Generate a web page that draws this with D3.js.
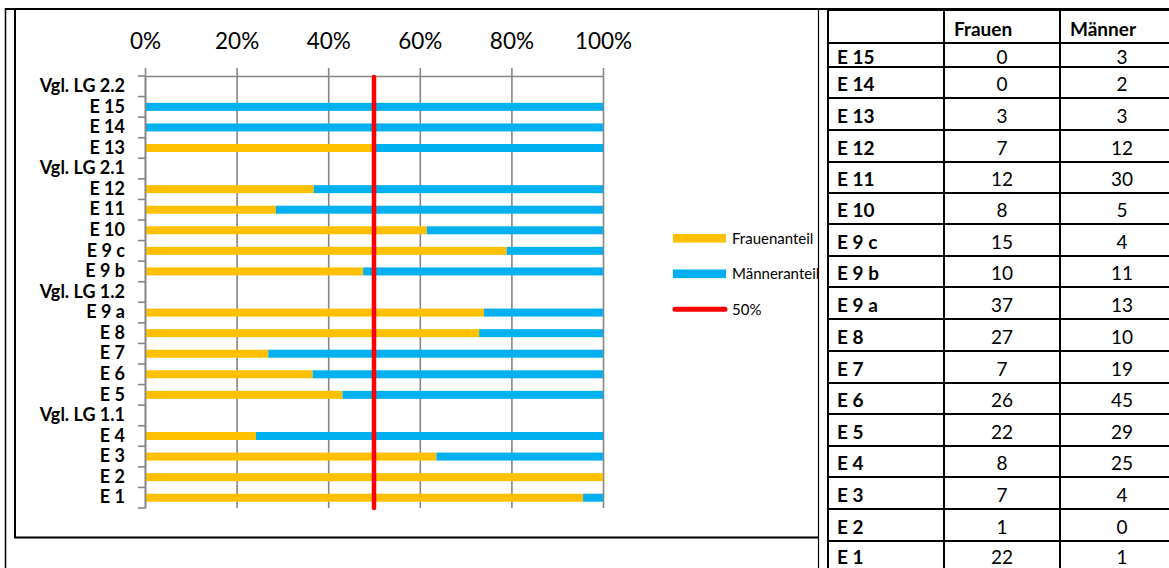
<!DOCTYPE html>
<html>
<head>
<meta charset="utf-8">
<script src="https://cdn.jsdelivr.net/npm/d3@7"></script>
<style>
  html, body { margin: 0; padding: 0; background: #fff; }
  svg { display: block; }
</style>
</head>
<body>
<svg id="chart" width="1169" height="568"></svg>
<script>
// Chart rows, top to bottom (comparison rows carry no bars)
const categories = [
  "Vgl. LG 2.2", "E 15", "E 14", "E 13",
  "Vgl. LG 2.1", "E 12", "E 11", "E 10", "E 9 c", "E 9 b",
  "Vgl. LG 1.2", "E 9 a", "E 8", "E 7", "E 6", "E 5",
  "Vgl. LG 1.1", "E 4", "E 3", "E 2", "E 1"
];
// Head counts per unit, as listed in the table
const units   = ["E 15", "E 14", "E 13", "E 12", "E 11", "E 10", "E 9 c", "E 9 b", "E 9 a", "E 8", "E 7", "E 6", "E 5", "E 4", "E 3", "E 2", "E 1"];
const frauen  = [0, 0, 3, 7, 12, 8, 15, 10, 37, 27, 7, 26, 22, 8, 7, 1, 22];
const maenner = [3, 2, 3, 12, 30, 5, 4, 11, 13, 10, 19, 45, 29, 25, 4, 0, 1];
const seriesNames = ["Frauenanteil", "Männeranteil"];
const referenceLabel = "50%";
const referenceValue = 0.5;
const tickValues = [0, 0.2, 0.4, 0.6, 0.8, 1];
const tableHeader = ["", "Frauen", "Männer"];

const colors = { "Frauenanteil": "#FFC000", "Männeranteil": "#00B0F0" };
const refColor = "#FF0000";
const gridColor = "#868686";
const FONT = "Lato, 'Open Sans', sans-serif";

const svg = d3.select("#chart");

// ---- frames ----
const frame = svg.append("g").attr("fill", "none").attr("stroke", "#000");
frame.append("line").attr("x1", 5).attr("x2", 830).attr("y1", 9).attr("y2", 9).attr("stroke-width", 2);
frame.append("line").attr("x1", 5.5).attr("x2", 5.5).attr("y1", 8).attr("y2", 568).attr("stroke-width", 1.5);
frame.append("line").attr("x1", 818.5).attr("x2", 818.5).attr("y1", 8).attr("y2", 568).attr("stroke-width", 1.2);
frame.append("line").attr("x1", 15).attr("x2", 15).attr("y1", 9).attr("y2", 538).attr("stroke-width", 2);
frame.append("line").attr("x1", 14).attr("x2", 819).attr("y1", 537.5).attr("y2", 537.5).attr("stroke-width", 2);

// ---- scales ----
const x = d3.scaleLinear().domain([0, 1]).range([145, 603]);
const y = d3.scaleBand().domain(categories).range([76, 508]).padding(0);
const barH = 8;

// ---- data for stacking ----
const rows = units.map((u, i) => ({ unit: u, "Frauenanteil": frauen[i], "Männeranteil": maenner[i] }));
const stacked = d3.stack().keys(seriesNames).offset(d3.stackOffsetExpand)(rows);

// ---- vertical gridlines ----
svg.append("g")
  .attr("transform", `translate(0,${y.range()[0]})`)
  .call(d3.axisBottom(x).tickValues(tickValues).tickSize(y.range()[1] - y.range()[0]).tickFormat(""))
  .call(g => g.select(".domain").remove())
  .call(g => g.selectAll("line").attr("stroke", gridColor).attr("stroke-width", 1.6));

// ---- bars ----
const barG = svg.append("g");
stacked.forEach(layer => {
  barG.append("g").attr("fill", colors[layer.key])
    .selectAll("rect").data(layer).join("rect")
    .attr("x", d => x(d[0]))
    .attr("width", d => Math.max(0, x(d[1]) - x(d[0])))
    .attr("y", d => y(d.data.unit) + (y.bandwidth() - barH) / 2)
    .attr("height", barH);
});

// ---- top value axis ----
svg.append("g")
  .attr("transform", `translate(0,${y.range()[0]})`)
  .call(d3.axisTop(x).tickValues(tickValues).tickFormat(d3.format(".0%")).tickSize(8).tickSizeOuter(0).tickPadding(19))
  .call(g => g.select(".domain").attr("stroke", gridColor).attr("stroke-width", 1.6))
  .call(g => g.selectAll(".tick line").attr("stroke", gridColor).attr("stroke-width", 1.6))
  .call(g => g.selectAll("text").attr("fill", "#000").style("font-family", FONT).style("font-size", "22.5px"));

// ---- left category axis ----
svg.append("g")
  .attr("transform", `translate(${x(0)},0)`)
  .call(d3.axisLeft(y).tickSize(0).tickPadding(20))
  .call(g => g.select(".domain").attr("stroke", gridColor).attr("stroke-width", 1.6))
  .call(g => g.selectAll("text").attr("fill", "#000").style("font-family", FONT)
    .style("font-size", "18px").style("font-weight", "bold"));

// tick marks between categories
const boundaries = categories.map(c => y(c)).concat([y.range()[1]]);
svg.append("g").selectAll("line").data(boundaries).join("line")
  .attr("x1", x(0) - 7).attr("x2", x(0))
  .attr("y1", d => d).attr("y2", d => d)
  .attr("stroke", gridColor).attr("stroke-width", 1.6);

// ---- 50% reference line ----
svg.append("line")
  .attr("x1", x(referenceValue)).attr("x2", x(referenceValue))
  .attr("y1", y.range()[0] + 1).attr("y2", y.range()[1])
  .attr("stroke", refColor).attr("stroke-width", 4.5).attr("stroke-linecap", "round");

// ---- legend ----
const legend = svg.append("g").style("font-family", FONT).style("font-size", "15px");
const legendItems = seriesNames.map(n => ({ name: n, kind: "bar" })).concat([{ name: referenceLabel, kind: "line" }]);
legendItems.forEach((it, i) => {
  const cy = 238.3 + i * 35.5;
  if (it.kind === "bar") {
    legend.append("rect").attr("x", 673).attr("y", cy - 4.3).attr("width", 53).attr("height", 8.6).attr("fill", colors[it.name]);
  } else {
    legend.append("line").attr("x1", 675).attr("x2", 725).attr("y1", cy).attr("y2", cy)
      .attr("stroke", refColor).attr("stroke-width", 5).attr("stroke-linecap", "round");
  }
  legend.append("text").attr("x", 732).attr("y", cy).attr("dy", "0.35em").attr("fill", "#000").text(it.name);
});

// ---- table ----
const colX = [828, 944, 1060, 1184];
const rowLines = [9.5, 43, 67, 98, 130, 162, 193, 224, 256, 287, 319, 351, 383, 414, 446, 477, 509, 541, 573];
const table = svg.append("g").style("font-family", FONT).style("font-size", "19px").attr("fill", "#000");

// cell texts
const baselineOf = i => Math.min(Math.max(rowLines[i] + 20.5, rowLines[i + 1] - 7), 564);
tableHeader.forEach((h, j) => {
  if (!h) return;
  table.append("text").attr("x", colX[j] + 10).attr("y", baselineOf(0)).style("font-weight", "bold").text(h);
});
units.forEach((u, i) => {
  const by = baselineOf(i + 1);
  table.append("text").attr("x", colX[0] + 9).attr("y", by).style("font-weight", "bold").text(u);
  table.append("text").attr("x", (colX[1] + colX[2]) / 2).attr("y", by).attr("text-anchor", "middle").text(frauen[i]);
  table.append("text").attr("x", (colX[2] + colX[3]) / 2).attr("y", by).attr("text-anchor", "middle").text(maenner[i]);
});

// grid lines
const tl = svg.append("g").attr("stroke", "#000");
rowLines.forEach((ry, i) => {
  tl.append("line").attr("x1", colX[0] - 1).attr("x2", 1169).attr("y1", ry).attr("y2", ry)
    .attr("stroke-width", i === 0 ? 3 : 2);
});
colX.slice(0, 3).forEach(cx => {
  tl.append("line").attr("x1", cx).attr("x2", cx).attr("y1", 8).attr("y2", 568).attr("stroke-width", 2);
});
</script>
</body>
</html>
